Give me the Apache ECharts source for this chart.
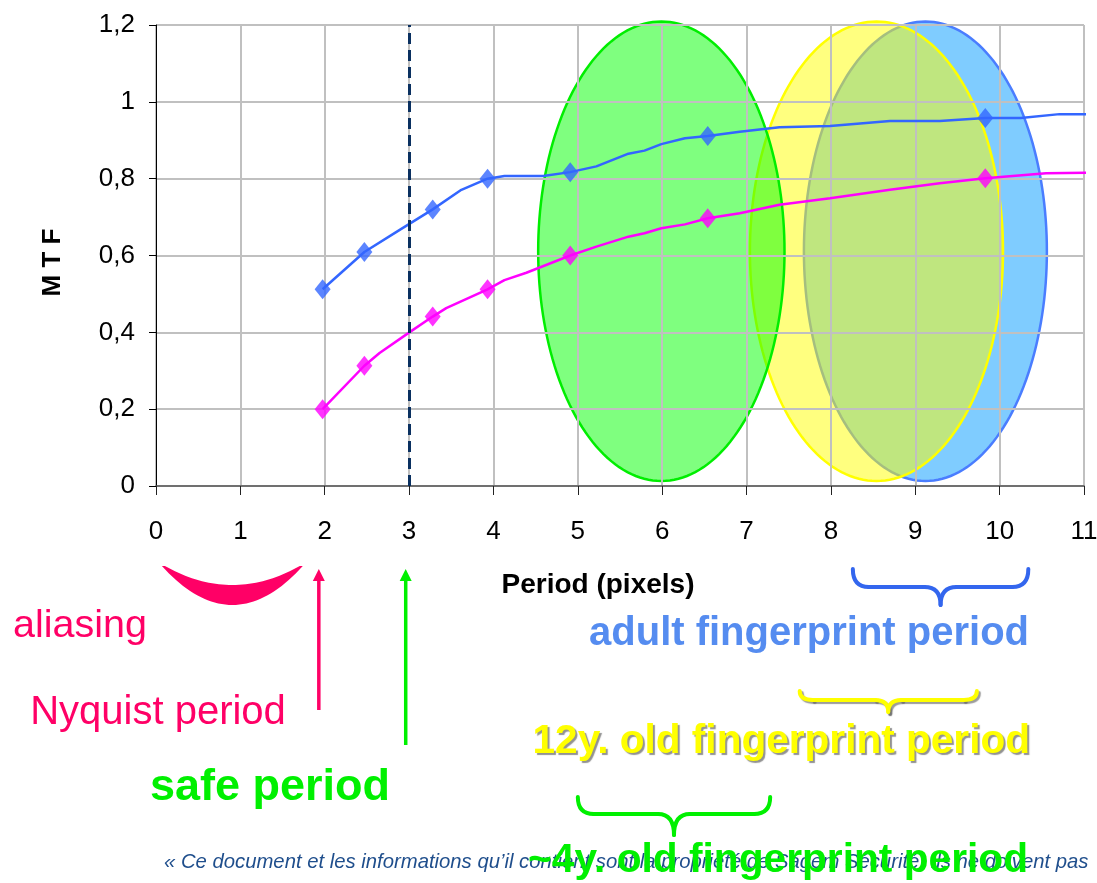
<!DOCTYPE html>
<html><head><meta charset="utf-8">
<script src="https://cdn.jsdelivr.net/npm/echarts@6/dist/echarts.min.js"></script>
<style>html,body{margin:0;padding:0;background:#fff}#c{width:1097px;height:883px}</style>
</head><body><div id="c"></div>
<script>
// ---- data ----
const yTickLabels = ['0', '0,2', '0,4', '0,6', '0,8', '1', '1,2'];
const xTickLabels = ['0','1','2','3','4','5','6','7','8','9','10','11'];

const blueLine = [[1.975,0.512],[2.47,0.609],[2.87,0.664],[3.28,0.72],[3.62,0.771],[3.93,0.80],[4.13,0.807],[4.59,0.807],[4.91,0.817],[5.22,0.832],[5.6,0.865],[5.79,0.873],[5.99,0.89],[6.27,0.905],[6.54,0.911],[6.92,0.922],[7.39,0.934],[7.99,0.937],[8.7,0.95],[9.29,0.95],[9.83,0.958],[10.25,0.958],[10.71,0.968],[11.16,0.968]];
const blueMarkers = [[1.975,0.512],[2.47,0.609],[3.28,0.72],[3.93,0.80],[4.91,0.817],[6.54,0.911],[9.83,0.958]];

const pinkLine = [[1.975,0.2],[2.47,0.313],[2.65,0.346],[2.99,0.398],[3.28,0.441],[3.44,0.463],[3.93,0.512],[4.13,0.536],[4.39,0.555],[4.91,0.60],[5.22,0.623],[5.6,0.649],[5.79,0.658],[5.99,0.671],[6.27,0.681],[6.54,0.697],[6.92,0.71],[7.39,0.732],[7.99,0.749],[8.7,0.771],[9.29,0.788],[9.83,0.801],[10.55,0.814],[11.16,0.816]];
const pinkMarkers = [[1.975,0.2],[2.47,0.313],[3.28,0.441],[3.93,0.512],[4.91,0.60],[6.54,0.697],[9.83,0.801]];

// fingerprint period ellipses: [centre x, centre y, radius x, radius y] in data units
const ellipseAdult = [9.12, 0.611, 1.44, 0.598];
const ellipse12y   = [8.54, 0.611, 1.50, 0.598];
const ellipse4y    = [5.99, 0.611, 1.46, 0.598];

const safePeriodX = 3;
const nyquistArrowX = 1.93;
const safeArrowX = 2.96;
const aliasingRange = [0.07, 1.74];
const adultRange = [8.26, 10.34];
const range12y = [7.63, 9.73];
const range4y = [5.0, 7.28];

// ---- chart ----
const FONT = 'Liberation Sans, Arial, sans-serif';
const ellFill = ['rgba(0,153,255,0.5)', 'rgba(255,255,0,0.5)', 'rgba(0,255,0,0.5)'];
const ellStroke = ['#4a7dff', '#ffff00', '#00ee00'];

const chart = echarts.init(document.getElementById('c'), null, {renderer: 'canvas'});

const option = {
  animation: false,
  backgroundColor: '#fff',
  grid: {left: 156, right: 13, top: 25, bottom: 397, containLabel: false, outerBoundsMode: 'none'},
  xAxis: {
    type: 'value', min: 0, max: 11, interval: 1,
    name: 'Period (pixels)', nameLocation: 'middle', nameGap: 85,
    nameTextStyle: {fontFamily: FONT, fontWeight: 'bold', fontSize: 28, color: '#000', padding: [0, 44, 0, 0]},
    axisLine: {lineStyle: {color: '#555', width: 1.5}},
    axisTick: {show: true, length: 9, lineStyle: {color: '#222', width: 1}},
    axisLabel: {fontFamily: FONT, fontSize: 26, color: '#000', margin: 33,
      formatter: v => xTickLabels[Math.round(v)]},
    splitLine: {show: true, lineStyle: {color: '#c0c0c0', width: 2}}
  },
  yAxis: {
    type: 'value', min: 0, max: 1.2, interval: 0.2,
    name: 'M T F', nameLocation: 'middle', nameGap: 90, nameRotate: 90,
    nameTextStyle: {fontFamily: FONT, fontWeight: 'bold', fontSize: 26, color: '#000', padding: [0, 14, 0, 0]},
    axisLine: {show: true, lineStyle: {color: '#000', width: 1}},
    axisTick: {show: true, length: 7, lineStyle: {color: '#000', width: 1}},
    axisLabel: {fontFamily: FONT, fontSize: 26, color: '#000', margin: 21,
      formatter: v => yTickLabels[Math.round(v / 0.2)]},
    splitLine: {show: true, lineStyle: {color: '#c0c0c0', width: 2}}
  },
  series: [
    {
      type: 'custom', z: -1, silent: true,
      data: [ellipseAdult, ellipse12y, ellipse4y],
      renderItem: (params, api) => {
        const c = api.coord([api.value(0), api.value(1)]);
        const s = api.size([api.value(2), api.value(3)]);
        const pts = [];
        for (let k = 0; k < 180; k++) {
          const t = k / 180 * Math.PI * 2;
          pts.push([c[0] + s[0] * Math.cos(t), c[1] + s[1] * Math.sin(t)]);
        }
        const i = params.dataIndex;
        return {type: 'polygon', shape: {points: pts},
          style: {fill: ellFill[i], stroke: ellStroke[i], lineWidth: 2.5}};
      }
    },
    {
      type: 'line', data: blueLine, symbol: 'none', clip: false, z: 3,
      lineStyle: {color: '#3366ff', width: 2.5},
      markLine: {
        silent: true, symbol: ['none', 'none'], label: {show: false},
        lineStyle: {color: '#0a3060', width: 3, type: [11, 6]},
        data: [{xAxis: safePeriodX}]
      }
    },
    {type: 'scatter', data: blueMarkers, symbol: 'diamond', symbolSize: [16, 20], z: 4,
      itemStyle: {color: '#3366ff'}},
    {type: 'line', data: pinkLine, symbol: 'none', clip: false, z: 3,
      lineStyle: {color: '#ff00ff', width: 2.5}},
    {type: 'scatter', data: pinkMarkers, symbol: 'diamond', symbolSize: [16, 20], z: 4,
      itemStyle: {color: '#ff00ff'}}
  ]
};
chart.setOption(option);

// ---- annotations below the plot ----
const px = x => chart.convertToPixel({gridIndex: 0}, [x, 0])[0];

function brace(x1, x2, yTop, yBar, yTip, color, shadow) {
  const mid = (x1 + x2) / 2, r = Math.min(16, yBar - yTop + 4);
  const st = {stroke: color, lineWidth: 4, fill: null, lineCap: 'round'};
  if (shadow) Object.assign(st, {shadowColor: 'rgba(90,90,90,0.6)', shadowOffsetX: 2, shadowOffsetY: 2, shadowBlur: 1});
  return {type: 'group', children: [
    {type: 'bezierCurve', shape: {x1: x1, y1: yTop, cpx1: x1, cpy1: yBar, x2: x1 + r, y2: yBar}, style: st},
    {type: 'line', shape: {x1: x1 + r, y1: yBar, x2: mid - r, y2: yBar}, style: st},
    {type: 'bezierCurve', shape: {x1: mid - r, y1: yBar, cpx1: mid, cpy1: yBar, x2: mid, y2: yTip}, style: st},
    {type: 'bezierCurve', shape: {x1: mid + r, y1: yBar, cpx1: mid, cpy1: yBar, x2: mid, y2: yTip}, style: st},
    {type: 'line', shape: {x1: mid + r, y1: yBar, x2: x2 - r, y2: yBar}, style: st},
    {type: 'bezierCurve', shape: {x1: x2 - r, y1: yBar, cpx1: x2, cpy1: yBar, x2: x2, y2: yTop}, style: st}
  ]};
}
function arrow(x, yBottom, yTip, color) {
  return {type: 'group', children: [
    {type: 'line', shape: {x1: x, y1: yBottom, x2: x, y2: yTip + 10}, style: {stroke: color, lineWidth: 3.5}},
    {type: 'polygon', shape: {points: [[x, yTip], [x - 6, yTip + 12], [x + 6, yTip + 12]]}, style: {fill: color}}
  ]};
}
function crescent(x1, x2, yTop, yOuter, yInner, color) {
  const pts = [];
  const cOut = 2 * yOuter - yTop, cIn = 2 * yInner - yTop;
  const mid = (x1 + x2) / 2;
  for (let k = 0; k <= 40; k++) {
    const t = k / 40;
    pts.push([(1-t)*(1-t)*x1 + 2*(1-t)*t*mid + t*t*x2, (1-t)*(1-t)*yTop + 2*(1-t)*t*cOut + t*t*yTop]);
  }
  for (let k = 40; k >= 0; k--) {
    const t = k / 40;
    const a = x1 + 3, b = x2 - 3;
    pts.push([(1-t)*(1-t)*a + 2*(1-t)*t*mid + t*t*b, (1-t)*(1-t)*yTop + 2*(1-t)*t*cIn + t*t*yTop]);
  }
  return {type: 'polygon', shape: {points: pts}, style: {fill: color}};
}
function txt(x, y, text, opts) {
  return {type: 'text', x: x, y: y, z: 10, style: Object.assign({
    text: text, fontFamily: FONT, textAlign: 'center', textVerticalAlign: 'middle'}, opts)};
}

const PINK = '#ff0066', GREEN = '#00f000', BLUE_T = '#558cf0', YEL = '#ffff00';

chart.setOption({graphic: [
  crescent(px(aliasingRange[0]), px(aliasingRange[1]), 566, 605, 585, PINK),
  arrow(px(nyquistArrowX), 710, 569, PINK),
  arrow(px(safeArrowX), 745, 569, GREEN),
  brace(px(adultRange[0]), px(adultRange[1]), 569, 587, 605, '#3366ee', false),
  brace(px(range12y[0]), px(range12y[1]), 691, 700, 712, YEL, true),
  brace(px(range4y[0]), px(range4y[1]), 797, 814, 835, GREEN, false),
  txt(80, 626, 'aliasing', {fill: PINK, fontSize: 39.5}),
  txt(158, 713, 'Nyquist period', {fill: PINK, fontSize: 40}),
  txt(270, 788, 'safe period', {fill: GREEN, fontSize: 45, fontWeight: 'bold'}),
  txt(1029, 634, 'adult fingerprint period', {fill: BLUE_T, fontSize: 40, fontWeight: 'bold', textAlign: 'right'}),
  txt(1030, 742, '12y. old fingerprint period', {fill: YEL, fontSize: 40.6, fontWeight: 'bold', textAlign: 'right',
    textShadowColor: 'rgba(100,100,100,0.7)', textShadowOffsetX: 2, textShadowOffsetY: 2, textShadowBlur: 1}),
  {type: 'text', x: 164, y: 862, z: 9, style: {text: '\u00AB Ce document et les informations qu\u2019il contient sont la propri\u00E9t\u00E9 de Sagem S\u00E9curit\u00E9. Ils ne doivent pas',
    fontFamily: FONT, fontSize: 20.3, fontStyle: 'italic', fill: '#1f4e8c', textAlign: 'left', textVerticalAlign: 'middle'}},
  txt(1028, 861, '~4y. old fingerprint period', {fill: GREEN, fontSize: 40.7, fontWeight: 'bold', textAlign: 'right'})
]});
</script></body></html>
